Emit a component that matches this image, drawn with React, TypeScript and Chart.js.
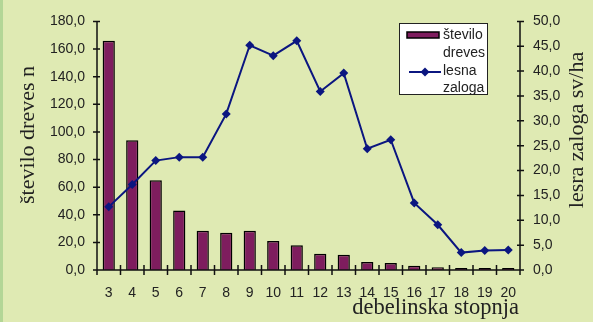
import React, { useEffect, useRef } from "react";
import { Chart, registerables } from "chart.js";

Chart.register(...registerables);

const categories = ["3","4","5","6","7","8","9","10","11","12","13","14","15","16","17","18","19","20"];
const steviloDreves = [166, 94, 65, 43, 28.5, 27, 28.5, 21, 18, 11.7, 11, 5.8, 5, 3, 2, 1.5, 1.5, 1.5];
const lesnaZaloga = [12.7, 17.2, 22.0, 22.7, 22.7, 31.4, 45.2, 43.1, 46.1, 35.9, 39.6, 24.4, 26.2, 13.5, 9.1, 3.5, 3.9, 4.0];
const leftTicks = [0, 20, 40, 60, 80, 100, 120, 140, 160, 180];
const rightTicks = [0, 5, 10, 15, 20, 25, 30, 35, 40, 45, 50];
const seriesNames = ["število dreves", "lesna zaloga"];
const leftTitle = "število dreves n";
const rightTitle = "lesra zaloga sv/ha";
const xTitle = "debelinska stopnja";

const BAR_COLOR = "#7e1d5e";
const LINE_COLOR = "#0b1680";
const SANS = "'Liberation Sans', Arial, sans-serif";
const SERIF = "'Liberation Serif', 'Times New Roman', serif";

const fmt = (v: number) => v.toFixed(1).replace(".", ",");

const decor = {
  id: "decor",
  afterDatasetsDraw(chart: any) {
    const ctx = chart.ctx as CanvasRenderingContext2D;
    const { left, right, top, bottom } = chart.chartArea;
    const yS = chart.scales.y;
    const y1S = chart.scales.y1;
    ctx.save();
    ctx.strokeStyle = "#111";
    ctx.lineWidth = 1.5;
    ctx.beginPath();
    ctx.moveTo(left, top);
    ctx.lineTo(left, bottom);
    leftTicks.forEach((v) => {
      const y = yS.getPixelForValue(v);
      ctx.moveTo(left - 4, y);
      ctx.lineTo(left + 3, y);
    });
    ctx.moveTo(right, top);
    ctx.lineTo(right, bottom);
    rightTicks.forEach((v) => {
      const y = y1S.getPixelForValue(v);
      ctx.moveTo(right - 3, y);
      ctx.lineTo(right + 4, y);
    });
    ctx.moveTo(left, bottom);
    ctx.lineTo(right, bottom);
    const n = categories.length;
    for (let i = 0; i <= n; i++) {
      const x = left + (i * (right - left)) / n;
      ctx.moveTo(x, bottom - 5);
      ctx.lineTo(x, bottom + 5);
    }
    ctx.stroke();

    ctx.fillStyle = "#222";
    ctx.textAlign = "center";
    ctx.textBaseline = "middle";
    ctx.save();
    ctx.translate(28, 135);
    ctx.rotate(-Math.PI / 2);
    ctx.font = "22px " + SERIF;
    ctx.fillText(leftTitle, 0, 0);
    ctx.restore();

    ctx.save();
    ctx.translate(577, 130);
    ctx.rotate(-Math.PI / 2);
    ctx.font = "22px " + SERIF;
    ctx.fillText(rightTitle, 0, 0);
    ctx.restore();

    ctx.font = "22.5px " + SERIF;
    ctx.textAlign = "right";
    ctx.fillText(xTitle, 519, 308);

    const lx = 399, ly = 23, lw = 88, lh = 71;
    ctx.fillStyle = "#fff";
    ctx.fillRect(lx, ly, lw, lh);
    ctx.lineWidth = 1;
    ctx.strokeStyle = "#222";
    ctx.strokeRect(lx + 0.5, ly + 0.5, lw, lh);
    ctx.fillStyle = BAR_COLOR;
    ctx.fillRect(407, 32, 32, 6);
    ctx.lineWidth = 1.5;
    ctx.strokeStyle = "#000";
    ctx.strokeRect(407, 32, 32, 6);
    ctx.strokeStyle = LINE_COLOR;
    ctx.lineWidth = 2;
    ctx.beginPath();
    ctx.moveTo(409, 72);
    ctx.lineTo(441, 72);
    ctx.stroke();
    ctx.fillStyle = LINE_COLOR;
    ctx.beginPath();
    ctx.moveTo(425, 67.5);
    ctx.lineTo(429.5, 72);
    ctx.lineTo(425, 76.5);
    ctx.lineTo(420.5, 72);
    ctx.closePath();
    ctx.fill();
    ctx.fillStyle = "#222";
    ctx.font = "14px " + SANS;
    ctx.textAlign = "left";
    ctx.textBaseline = "middle";
    const w1 = seriesNames[0].split(" ");
    const w2 = seriesNames[1].split(" ");
    ctx.fillText(w1[0], 443, 35);
    ctx.fillText(w1[1], 443, 53);
    ctx.fillText(w2[0], 443, 71);
    ctx.fillText(w2[1], 443, 88);
    ctx.restore();
  },
};

export default function App() {
  const ref = useRef<HTMLCanvasElement | null>(null);
  useEffect(() => {
    document.body.style.margin = "0";
    const canvas = ref.current!;
    const chart = new Chart(canvas, {
      type: "bar",
      data: {
        labels: categories,
        datasets: [
          {
            type: "bar",
            label: seriesNames[0],
            data: steviloDreves,
            backgroundColor: BAR_COLOR,
            borderColor: "#000",
            borderWidth: 1.5,
            barPercentage: 0.52,
            categoryPercentage: 1,
            yAxisID: "y",
            order: 2,
          } as any,
          {
            type: "line",
            label: seriesNames[1],
            data: lesnaZaloga,
            borderColor: LINE_COLOR,
            backgroundColor: LINE_COLOR,
            borderWidth: 2,
            pointStyle: "rectRot",
            pointRadius: 4.5,
            pointBorderWidth: 0,
            tension: 0,
            yAxisID: "y1",
            order: 1,
          } as any,
        ],
      },
      options: {
        animation: false,
        responsive: false,
        devicePixelRatio: 1,
        layout: { padding: { top: 13, left: 0, right: 0, bottom: 0 } },
        plugins: { legend: { display: false }, tooltip: { enabled: false } },
        scales: {
          x: {
            grid: { display: false, drawTicks: false },
            border: { display: false },
            ticks: { color: "#222", font: { family: SANS, size: 14 }, padding: 15, maxRotation: 0, autoSkip: false },
            afterFit: (s: any) => { s.height = 52; },
          },
          y: {
            position: "left",
            min: 0,
            max: 180,
            grid: { display: false, drawTicks: false },
            border: { display: false },
            ticks: { stepSize: 20, color: "#222", font: { family: SANS, size: 14 }, padding: 12, callback: (v: any) => fmt(Number(v)) },
            afterFit: (s: any) => { s.width = 97; },
          },
          y1: {
            position: "right",
            min: 0,
            max: 50,
            grid: { display: false, drawTicks: false },
            border: { display: false },
            ticks: { stepSize: 5, color: "#222", font: { family: SANS, size: 14 }, padding: 13, callback: (v: any) => fmt(Number(v)) },
            afterFit: (s: any) => { s.width = 73; },
          },
        },
      },
      plugins: [decor],
    });
    return () => chart.destroy();
  }, []);
  return (
    <div style={{ width: 593, height: 322, background: "#dfeab3", position: "relative", boxShadow: "inset 3px 0 0 #b3d696" }}>
      <canvas ref={ref} width={593} height={322} style={{ display: "block" }} />
    </div>
  );
}
